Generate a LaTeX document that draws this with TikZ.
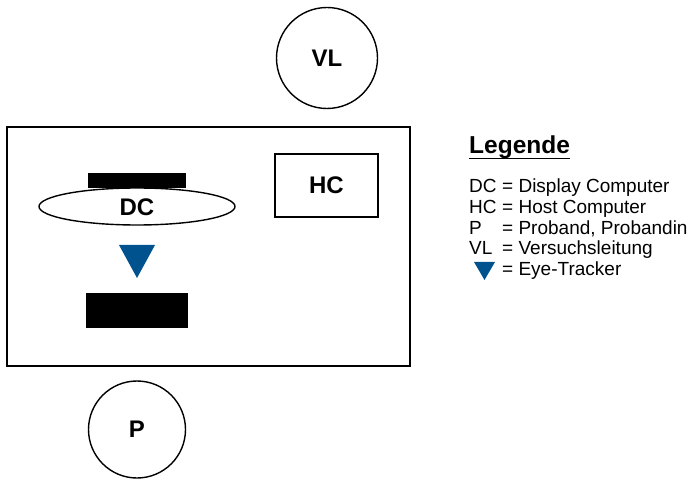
\documentclass[tikz,border=0pt]{standalone}
\usepackage{fontspec}
\setmainfont{Liberation Sans}
\definecolor{etblue}{HTML}{00528F}
\begin{document}
\begin{tikzpicture}[x=1pt,y=-1pt,
  outline/.style={draw=black,line width=1.4pt},
  bigtxt/.style={font=\fontsize{24}{28}\selectfont\bfseries},
  legtxt/.style={font=\fontsize{19}{21}\selectfont,anchor=base west,inner sep=0pt},
  blackbar/.style={fill=black,draw=none},
  tracker/.style={fill=etblue,draw=none}]
\useasboundingbox (0,0) rectangle (691,481);
% room
\node[outline,rectangle,minimum width=403pt,minimum height=239pt,inner sep=0pt] (room) at (208.5,246.5) {};
% host computer
\node[outline,rectangle,minimum width=103pt,minimum height=63pt,inner sep=0pt,bigtxt] (HC) at (326.5,185.5) {HC};
% display bar
\fill[blackbar] (88,173) rectangle (186,188);
% display computer ellipse
\draw[outline,fill=white] (137,206.5) ellipse[x radius=98,y radius=18.5];
\node[bigtxt,inner sep=0pt] (DC) at (137,207) {DC};
% eye tracker
\fill[tracker] (119,245) -- (155,245) -- (137,278) -- cycle;
% desk
\fill[blackbar] (86,293) rectangle (188,328);
% VL and P
\node[outline,circle,minimum size=101pt,inner sep=0pt,bigtxt] (VL) at (327,58) {VL};
\node[outline,circle,minimum size=97pt,inner sep=0pt,bigtxt] (P) at (137,429.5) {P};
% legend
\node[anchor=base west,inner sep=0pt,font=\fontsize{24.5}{28}\selectfont\bfseries] (leg) at (469,153.3) {Legende};
\draw[line width=1.4pt] (leg.base west)++(0,5.5) -- ++(101,0);
\node[legtxt] (l1a) at (469,192.7) {DC};
\node[legtxt] (l1b) at (502,192.7) {= Display Computer};
\node[legtxt] (l2a) at (469,213.4) {HC};
\node[legtxt] (l2b) at (502,213.4) {= Host Computer};
\node[legtxt] (l3a) at (469,234.1) {P};
\node[legtxt] (l3b) at (502,234.1) {= Proband, Probandin};
\node[legtxt] (l4a) at (469,254.8) {VL};
\node[legtxt] (l4b) at (502,254.8) {= Versuchsleitung};
\node[legtxt] (l5b) at (502,275.5) {= Eye-Tracker};
\fill[tracker] (474,262) -- (495,262) -- (484.5,280) -- cycle;
\end{tikzpicture}
\end{document}
